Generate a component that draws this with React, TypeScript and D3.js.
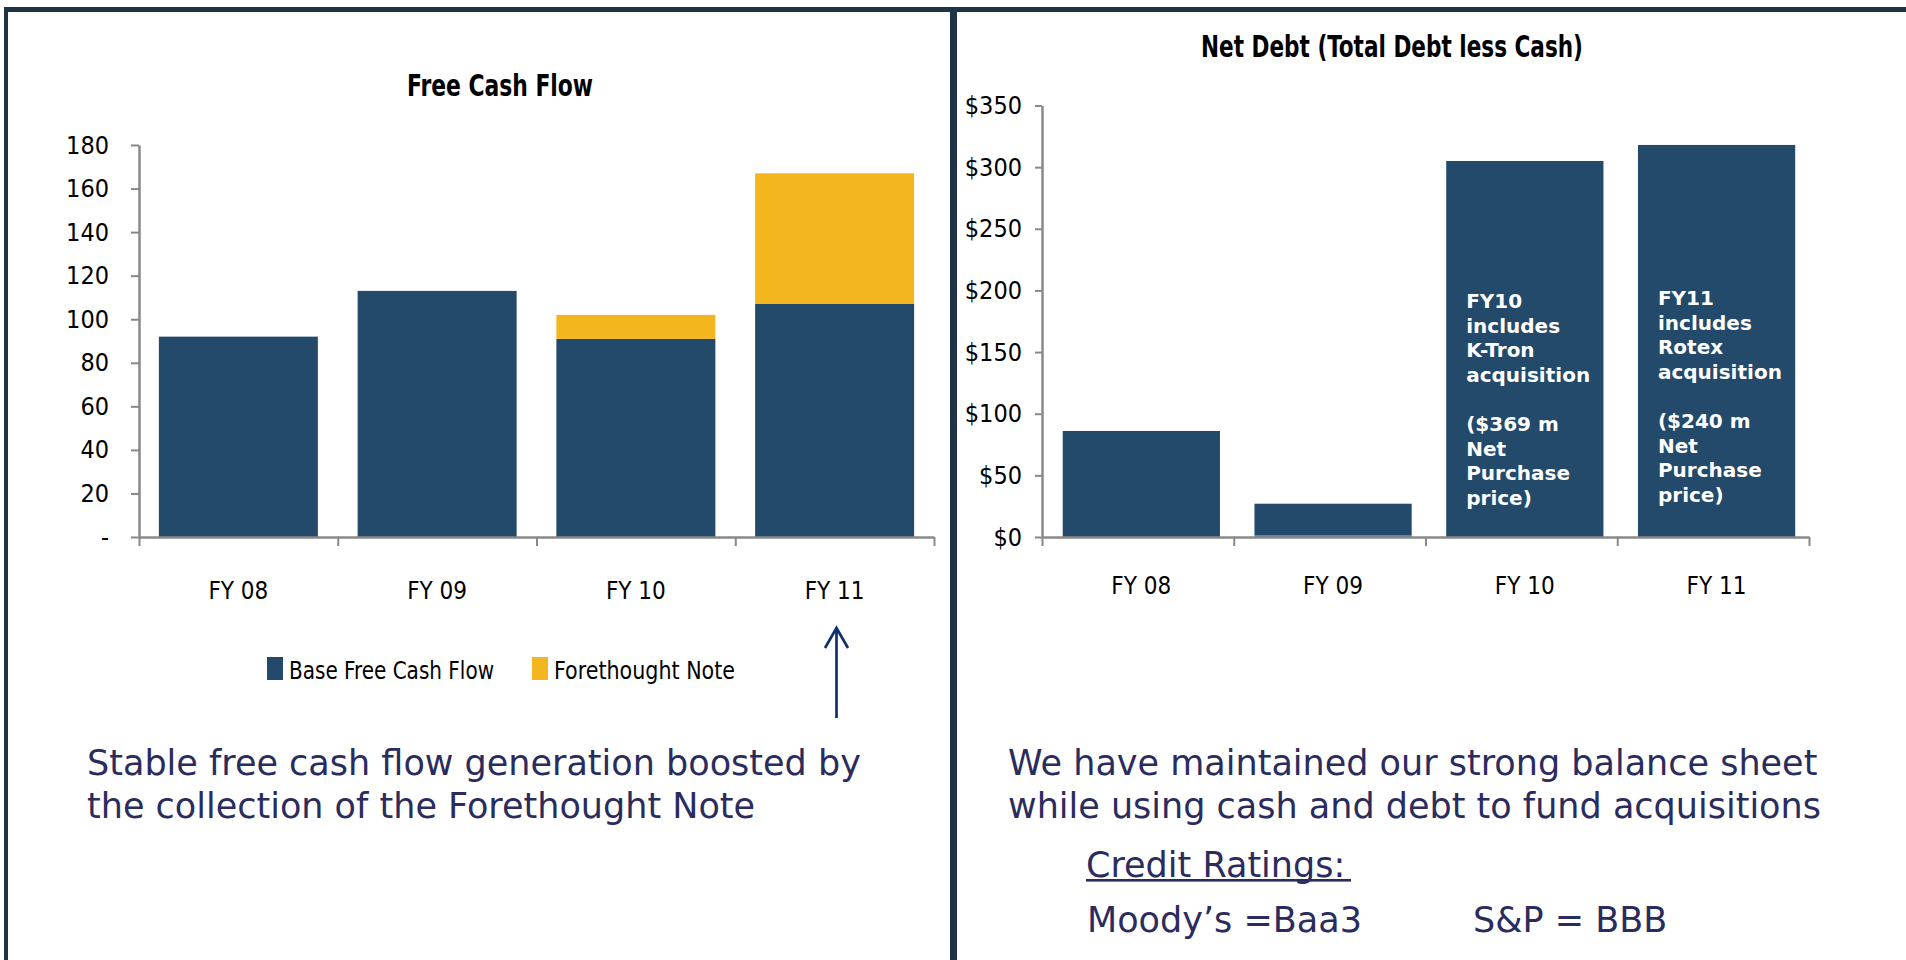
import React, { useRef, useEffect } from 'react';
import * as d3 from 'd3';

const W = 1906;
const H = 960;

const BLUE = '#234A6A';
const YELLOW = '#F4B61F';
const LIGHT_BLUE = '#4A7EBB';
const AXIS = '#898989';
const BORDER = '#1F3347';
const TEXT_NAVY = '#2B2C5E';

const NARROW = '"Liberation Sans Narrow", "Arial Narrow", "DejaVu Sans Condensed", sans-serif';
const VERDANA = '"DejaVu Sans", Verdana, sans-serif';

// left chart: Free Cash Flow
const fcfYears = ['FY 08', 'FY 09', 'FY 10', 'FY 11'];
const baseFcf = [92, 113, 91, 107];
const forethoughtNote = [0, 0, 11, 60];
const fcfTicks = [0, 20, 40, 60, 80, 100, 120, 140, 160, 180];

// right chart: Net Debt
const debtYears = ['FY 08', 'FY 09', 'FY 10', 'FY 11'];
const netDebt = [86, 27, 305, 318];
const netDebtSliver = [0, 1.5, 0, 0];
const debtTicks = [0, 50, 100, 150, 200, 250, 300, 350];

const fy10Note = ['FY10', 'includes', 'K-Tron', 'acquisition', '', '($369 m', 'Net', 'Purchase', 'price)'];
const fy11Note = ['FY11', 'includes', 'Rotex', 'acquisition', '', '($240 m', 'Net', 'Purchase', 'price)'];

const leftCaption = ['Stable free cash flow generation boosted by', 'the collection of the Forethought Note'];
const rightCaption = ['We have maintained our strong balance sheet', 'while using cash and debt to fund acquisitions'];

const App = () => {
  const svgRef = useRef<SVGSVGElement | null>(null);

  useEffect(() => {
    const svg = d3.select(svgRef.current);
    svg.selectAll('*').remove();

    svg.append('rect').attr('width', W).attr('height', H).attr('fill', '#fff');

    // panel borders
    svg.append('rect').attr('x', 4).attr('y', 7).attr('width', W).attr('height', 5).attr('fill', BORDER);
    svg.append('rect').attr('x', 4).attr('y', 7).attr('width', 4).attr('height', H).attr('fill', BORDER);
    svg.append('rect').attr('x', 950).attr('y', 7).attr('width', 7).attr('height', H).attr('fill', BORDER);

    const styleAxis = (g: any) => {
      g.selectAll('path').attr('stroke', AXIS).attr('stroke-width', 2.5);
      g.selectAll('line').attr('stroke', AXIS).attr('stroke-width', 2);
      g.selectAll('text')
        .attr('fill', '#000')
        .style('font-family', NARROW)
        .style('font-size', '25px');
    };

    // ---------- Free Cash Flow ----------
    const lx0 = 139, lx1 = 934, ly0 = 537, ly1 = 145;
    const xL = d3.scaleBand().domain(fcfYears).range([lx0, lx1]).paddingInner(0.2).paddingOuter(0.1);
    const yL = d3.scaleLinear().domain([0, 180]).range([ly0, ly1]);

    const fcfRows = fcfYears.map((year, i) => ({ year, base: baseFcf[i], note: forethoughtNote[i] }));
    const fcfStack = d3.stack<any>().keys(['base', 'note'])(fcfRows);
    const fcfColor = d3.scaleOrdinal<string>().domain(['base', 'note']).range([BLUE, YELLOW]);

    svg.append('g')
      .selectAll('g')
      .data(fcfStack)
      .enter()
      .append('g')
      .attr('fill', (d: any) => fcfColor(d.key))
      .selectAll('rect')
      .data((d: any) => d)
      .enter()
      .append('rect')
      .attr('x', (d: any) => xL(d.data.year)!)
      .attr('width', xL.bandwidth())
      .attr('y', (d: any) => yL(d[1]))
      .attr('height', (d: any) => yL(d[0]) - yL(d[1]));

    svg.append('g')
      .attr('transform', `translate(${lx0},0)`)
      .call(d3.axisLeft(yL).tickValues(fcfTicks).tickSize(8).tickSizeOuter(0).tickPadding(22)
        .tickFormat((d: any) => (d === 0 ? '-' : String(d))))
      .call(styleAxis);

    const lBound = d3.scaleLinear().domain([0, fcfYears.length]).range([lx0, lx1]);
    svg.append('g')
      .attr('transform', `translate(0,${ly0})`)
      .call(d3.axisBottom(lBound).ticks(fcfYears.length).tickSize(9).tickSizeOuter(0).tickFormat(() => ''))
      .call(styleAxis);

    svg.append('g')
      .attr('transform', `translate(0,${ly0})`)
      .call(d3.axisBottom(xL).tickSize(0).tickPadding(45))
      .call((g: any) => g.select('.domain').remove())
      .call(styleAxis)
      .call((g: any) => g.selectAll('text').style('font-size', '24px'));

    svg.append('text')
      .attr('x', 500).attr('y', 96)
      .attr('text-anchor', 'middle')
      .attr('textLength', 186).attr('lengthAdjust', 'spacingAndGlyphs')
      .style('font-family', NARROW).style('font-size', '30px').style('font-weight', 'bold')
      .text('Free Cash Flow');

    // legend
    const legendItems = [
      { key: 'base', label: 'Base Free Cash Flow', x: 267, len: 205 },
      { key: 'note', label: 'Forethought Note', x: 532, len: 181 },
    ];
    const lg = svg.append('g').selectAll('g').data(legendItems).enter().append('g')
      .attr('transform', (d) => `translate(${d.x},657)`);
    lg.append('rect').attr('width', 16).attr('height', 23).attr('fill', (d) => fcfColor(d.key));
    lg.append('text').attr('x', 22).attr('y', 22)
      .attr('textLength', (d) => d.len).attr('lengthAdjust', 'spacingAndGlyphs')
      .style('font-family', NARROW).style('font-size', '25px')
      .text((d) => d.label);

    // arrow
    svg.append('path')
      .attr('d', 'M836.5,718 L836.5,628 M825,648 L836.5,628 L848,648')
      .attr('fill', 'none')
      .attr('stroke', '#12306A')
      .attr('stroke-width', 2.7);

    // ---------- Net Debt ----------
    const rx0 = 1042, rx1 = 1809, ry0 = 537, ry1 = 105.5;
    const xR = d3.scaleBand().domain(debtYears).range([rx0, rx1]).paddingInner(0.18).paddingOuter(0.09).align(0.6);
    const yR = d3.scaleLinear().domain([0, 350]).range([ry0, ry1]);

    const debtRows = debtYears.map((year, i) => ({ year, sliver: netDebtSliver[i], debt: netDebt[i] - netDebtSliver[i] }));
    const debtStack = d3.stack<any>().keys(['sliver', 'debt'])(debtRows);
    const debtColor = d3.scaleOrdinal<string>().domain(['sliver', 'debt']).range([LIGHT_BLUE, BLUE]);

    svg.append('g')
      .selectAll('g')
      .data(debtStack)
      .enter()
      .append('g')
      .attr('fill', (d: any) => debtColor(d.key))
      .selectAll('rect')
      .data((d: any) => d)
      .enter()
      .append('rect')
      .attr('x', (d: any) => xR(d.data.year)!)
      .attr('width', xR.bandwidth())
      .attr('y', (d: any) => yR(d[1]))
      .attr('height', (d: any) => yR(d[0]) - yR(d[1]));

    svg.append('g')
      .attr('transform', `translate(${rx0},0)`)
      .call(d3.axisLeft(yR).tickValues(debtTicks).tickSize(7).tickSizeOuter(0).tickPadding(13)
        .tickFormat((d: any) => `$${d}`))
      .call(styleAxis);

    const rBound = d3.scaleLinear().domain([0, debtYears.length]).range([rx0, rx1]);
    svg.append('g')
      .attr('transform', `translate(0,${ry0})`)
      .call(d3.axisBottom(rBound).ticks(debtYears.length).tickSize(9).tickSizeOuter(0).tickFormat(() => ''))
      .call(styleAxis);

    svg.append('g')
      .attr('transform', `translate(0,${ry0})`)
      .call(d3.axisBottom(xR).tickSize(0).tickPadding(40))
      .call((g: any) => g.select('.domain').remove())
      .call(styleAxis)
      .call((g: any) => g.selectAll('text').style('font-size', '24px'));

    svg.append('text')
      .attr('x', 1392).attr('y', 57)
      .attr('text-anchor', 'middle')
      .attr('textLength', 382).attr('lengthAdjust', 'spacingAndGlyphs')
      .style('font-family', NARROW).style('font-size', '30px').style('font-weight', 'bold')
      .text('Net Debt (Total Debt less Cash)');

    // in-bar notes
    const notes = [
      { year: 'FY 10', lines: fy10Note, dy: 2 },
      { year: 'FY 11', lines: fy11Note, dy: -1 },
    ];
    notes.forEach((n) => {
      const t = svg.append('text')
        .attr('fill', '#fff')
        .style('font-family', VERDANA).style('font-size', '20px').style('font-weight', 'bold');
      n.lines.forEach((line, i) => {
        t.append('tspan')
          .attr('x', xR(n.year)! + 20)
          .attr('y', 306 + n.dy + i * 24.6)
          .text(line || ' ');
      });
    });

    // ---------- captions ----------
    const caption = (lines: string[], x: number) => {
      const t = svg.append('text')
        .attr('fill', TEXT_NAVY)
        .style('font-family', VERDANA).style('font-size', '35px');
      lines.forEach((line, i) => {
        t.append('tspan').attr('x', x).attr('y', 775 + i * 42.5).text(line);
      });
    };
    caption(leftCaption, 87);
    caption(rightCaption, 1008);

    svg.append('text')
      .attr('x', 1086).attr('y', 876.5)
      .attr('fill', TEXT_NAVY)
      .style('font-family', VERDANA).style('font-size', '35px')
      .text('Credit Ratings:');
    svg.append('rect').attr('x', 1086).attr('y', 879).attr('width', 265).attr('height', 2.6).attr('fill', TEXT_NAVY);

    svg.append('text')
      .attr('x', 1087).attr('y', 931.5)
      .attr('fill', TEXT_NAVY)
      .style('font-family', VERDANA).style('font-size', '35px')
      .text('Moody\u2019s =Baa3');
    svg.append('text')
      .attr('x', 1473).attr('y', 931.5)
      .attr('fill', TEXT_NAVY)
      .style('font-family', VERDANA).style('font-size', '35px')
      .text('S&P = BBB');
  }, []);

  return (
    <div style={{ position: 'absolute', left: 0, top: 0, width: W, height: H, overflow: 'hidden' }}>
      <svg ref={svgRef} width={W} height={H} style={{ display: 'block' }} />
    </div>
  );
};

export default App;
